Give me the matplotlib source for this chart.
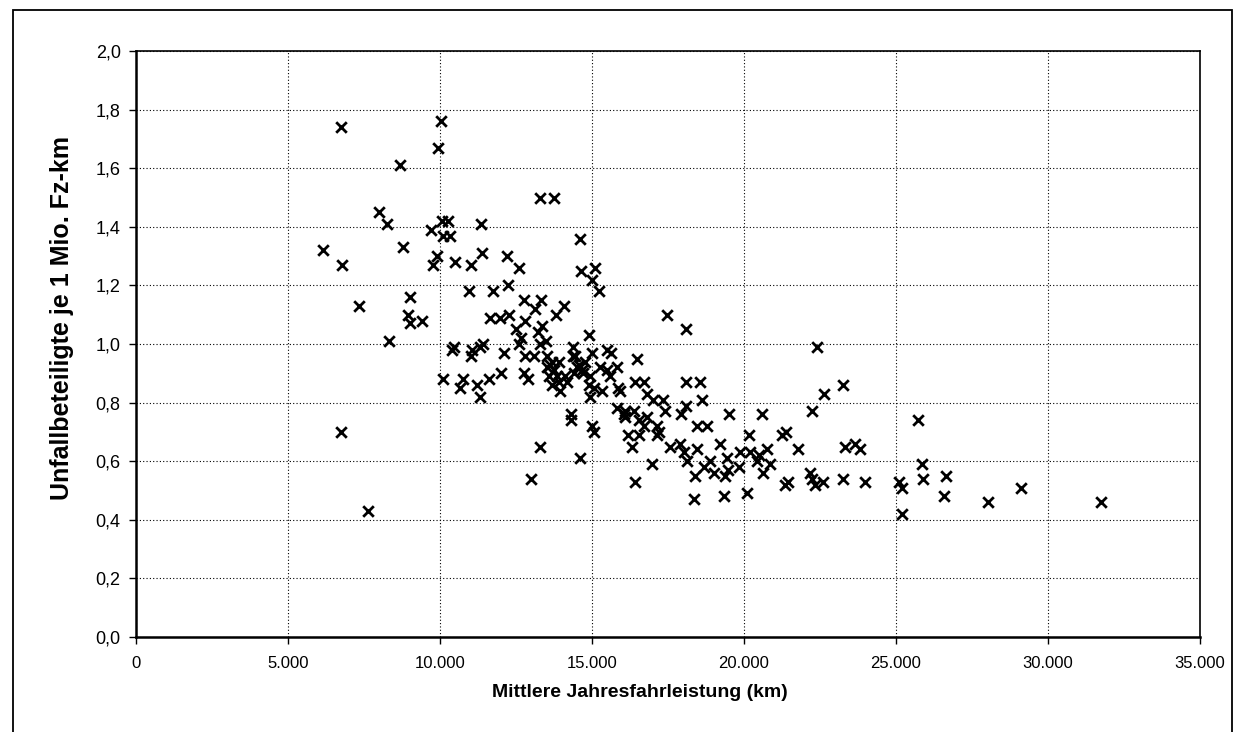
import matplotlib.pyplot as plt
from matplotlib.patches import Rectangle
from matplotlib.ticker import FuncFormatter

plt.rcParams['font.family'] = ['Liberation Sans', 'DejaVu Sans']

# Mittlere Jahresfahrleistung (km) je Fahrzeuggruppe
mileage_km = [
    6730, 8690, 7980, 8260, 8770, 6150, 6780, 7330, 6750, 7640, 8310,
    9000, 8940, 9000, 9410, 9710, 9900, 9770, 9920, 10030,
    10070, 10250, 10100, 10340, 11340, 13280, 13740, 14590, 10480, 11010,
    11380, 12200, 12600, 14650, 15110, 15010, 15230, 10960, 11730, 12250,
    12770, 13330, 13110, 14070, 13820,
    11650, 11980, 12260, 12790, 12500, 13350, 13210, 12680, 12590, 13300,
    13480, 14910, 10450, 10400, 11050, 11020, 11410, 11330, 12110, 12800,
    13080, 13520, 14370,
    13680, 13900, 13520, 13740, 13570, 13850, 14120, 13680, 13960, 12750,
    12910, 14390, 14560, 14720, 15000, 14940, 14890, 15050, 15330, 14940,
    15490, 15620, 15820, 15600, 15870, 14300, 14320, 15820, 16090, 16090,
    15000, 13630, 14180, 13910, 14450, 14500, 14660, 14780, 15270, 15490,
    15910, 16480, 14400,
    10100, 10760, 10670, 11220, 11330, 11600, 12010,
    13300, 14590, 12990, 15080, 16420, 18340, 17480, 18100,
    16420, 16720, 16810, 17020, 17350, 17410, 18100, 18540, 18620, 18100,
    17940, 19510, 16370, 16060, 16530, 16810, 16700, 17140, 17190, 16200,
    16530, 17140, 16310, 17570, 17900, 18010, 18120, 18450, 18450, 18780,
    19220, 16970, 18400, 18670, 18890, 19000, 19380, 19330, 19440,
    20590, 22230, 20150, 21250, 21390, 23330, 21790, 19880, 20200, 20480,
    20750, 20860, 20640, 20430, 19490, 19820, 20100, 21360, 21460, 22180,
    22230, 22340, 22610, 23250, 22400, 23270, 22640, 23660, 23820, 23990,
    25110, 25190, 25210, 25720, 25850, 25900, 26650, 26590, 28010, 29110,
    31740,
]

# Unfallbeteiligte je 1 Mio. Fz-km
accidents_per_mkm = [
    1.74, 1.61, 1.45, 1.41, 1.33, 1.32, 1.27, 1.13, 0.70, 0.43, 1.01,
    1.16, 1.10, 1.07, 1.08, 1.39, 1.30, 1.27, 1.67, 1.76,
    1.42, 1.42, 1.37, 1.37, 1.41, 1.50, 1.50, 1.36, 1.28, 1.27,
    1.31, 1.30, 1.26, 1.25, 1.26, 1.22, 1.18, 1.18, 1.18, 1.20,
    1.15, 1.15, 1.12, 1.13, 1.10,
    1.09, 1.09, 1.10, 1.08, 1.05, 1.06, 1.04, 1.02, 1.00, 1.00,
    1.01, 1.03, 0.99, 0.98, 0.98, 0.96, 1.00, 0.99, 0.97, 0.96,
    0.96, 0.96, 0.99,
    0.94, 0.94, 0.92, 0.91, 0.89, 0.89, 0.89, 0.86, 0.84, 0.90,
    0.88, 0.96, 0.93, 0.90, 0.97, 0.89, 0.86, 0.85, 0.84, 0.82,
    0.98, 0.97, 0.92, 0.89, 0.85, 0.76, 0.74, 0.78, 0.77, 0.75,
    0.72, 0.93, 0.87, 0.87, 0.96, 0.92, 0.91, 0.94, 0.92, 0.91,
    0.84, 0.95, 0.90,
    0.88, 0.88, 0.85, 0.86, 0.82, 0.88, 0.90,
    0.65, 0.61, 0.54, 0.70, 0.53, 0.47, 1.10, 1.05,
    0.87, 0.87, 0.83, 0.81, 0.81, 0.77, 0.87, 0.87, 0.81, 0.79,
    0.76, 0.76, 0.77, 0.76, 0.74, 0.75, 0.72, 0.72, 0.70, 0.69,
    0.69, 0.69, 0.65, 0.65, 0.66, 0.63, 0.60, 0.64, 0.72, 0.72,
    0.66, 0.59, 0.55, 0.58, 0.60, 0.56, 0.55, 0.48, 0.61,
    0.76, 0.77, 0.69, 0.69, 0.70, 0.65, 0.64, 0.63, 0.63, 0.62,
    0.64, 0.59, 0.56, 0.60, 0.57, 0.58, 0.49, 0.52, 0.53, 0.56,
    0.54, 0.52, 0.53, 0.54, 0.99, 0.86, 0.83, 0.66, 0.64, 0.53,
    0.53, 0.51, 0.42, 0.74, 0.59, 0.54, 0.55, 0.48, 0.46, 0.51,
    0.46,
]

x_ticks = list(range(0, 35001, 5000))
y_ticks = [0.0, 0.2, 0.4, 0.6, 0.8, 1.0, 1.2, 1.4, 1.6, 1.8, 2.0]

fig = plt.figure(figsize=(12.37, 7.32), dpi=100)
fig.patch.set_facecolor('white')

# Rahmen um das gesamte Diagramm
fig.patches.append(Rectangle((12.5 / 1237, -0.02), (1232 - 12.5) / 1237, 1.02 - 10 / 732,
                             transform=fig.transFigure, fill=False,
                             edgecolor='black', linewidth=1.3))

ax = fig.add_axes([136 / 1237, 95 / 732, (1200 - 136) / 1237, (637 - 51) / 732])

ax.scatter(mileage_km, accidents_per_mkm, marker='x', s=58, c='black',
           linewidths=2.0, zorder=3)

ax.set_xlim(0, 35000)
ax.set_ylim(0, 2.0)
ax.set_xticks(x_ticks)
ax.set_yticks(y_ticks)
ax.xaxis.set_major_formatter(FuncFormatter(lambda v, _: f"{v:,.0f}".replace(",", ".")))
ax.yaxis.set_major_formatter(FuncFormatter(lambda v, _: f"{v:.1f}".replace(".", ",")))

ax.grid(True, color='black', linestyle=(0, (1, 2)), linewidth=0.8)
ax.set_axisbelow(True)

for side in ['left', 'bottom']:
    ax.spines[side].set_linewidth(1.8)
for side in ['top', 'right']:
    ax.spines[side].set_linewidth(1.2)

ax.tick_params(axis='both', direction='out', length=5, width=1, colors='black')
ax.tick_params(axis='x', pad=9, labelsize=12)
ax.tick_params(axis='y', pad=6, labelsize=13)

ax.set_xlabel('Mittlere Jahresfahrleistung (km)', fontsize=14, fontweight='bold')
ax.set_ylabel('Unfallbeteiligte je 1 Mio. Fz-km', fontsize=18, fontweight='bold')
ax.xaxis.set_label_coords(0.474, -0.080)
ax.yaxis.set_label_coords(-0.058, 0.544)

fig.savefig('out.png', dpi=100)
